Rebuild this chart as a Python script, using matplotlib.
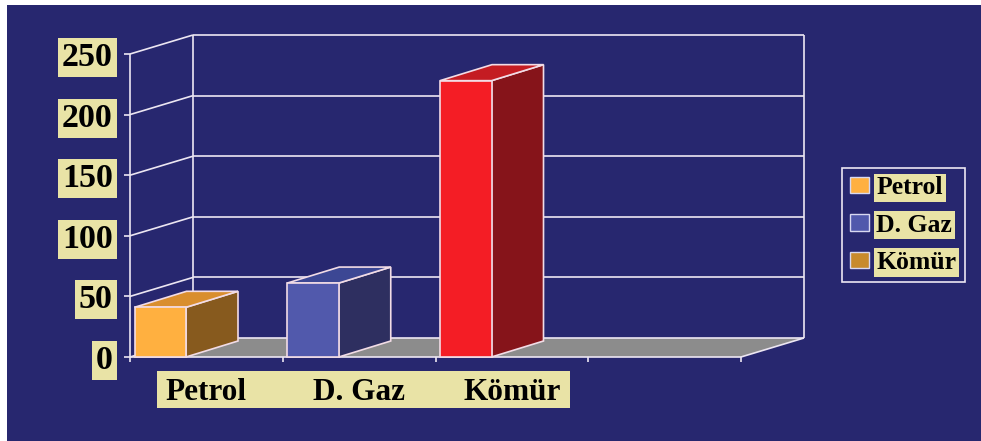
import matplotlib
matplotlib.use("Agg")
import matplotlib.pyplot as plt
from matplotlib.patches import Polygon, Rectangle, Patch

# ---- data ----
categories = ["Petrol", "D. Gaz", "Kömür"]
values = [41, 61, 228]
y_ticks = [0, 50, 100, 150, 200, 250]
legend_labels = ["Petrol", "D. Gaz", "Kömür"]

# ---- styles ----
front_colors = ["#FFB040", "#5159AC", "#F41D25"]
side_colors = ["#875A1E", "#2E2F60", "#86141A"]
top_colors = ["#D98E2E", "#3C4794", "#C41C22"]
legend_colors = ["#FFB040", "#5159AC", "#C88A2C"]

NAVY = "#27276F"
KHAKI = "#E9E3A6"
LINE = "#ECE6F2"
EDGE = "#F2DCE6"
FLOOR = "#8C8C8C"

plt.rcParams["font.family"] = ["Liberation Serif", "DejaVu Serif"]
plt.rcParams["font.weight"] = "bold"

W, H = 981, 441
fig = plt.figure(figsize=(W / 100, H / 100), dpi=100, facecolor="white")
fig.patches.append(Rectangle((7 / W, 0), 1, (H - 5) / H, transform=fig.transFigure,
                             facecolor=NAVY, edgecolor="none", zorder=-3))

# front plot area (pixels)
px0, px1 = 130, 741
py0, py1 = 357, 54
nslots = len(categories) + 1
ax = fig.add_axes([px0 / W, 1 - py0 / H, (px1 - px0) / W, (py0 - py1) / H])
ax.set_xlim(0, nslots)
ax.set_ylim(0, y_ticks[-1])
ax.patch.set_visible(False)
for s in ax.spines.values():
    s.set_visible(False)

slot_px = (px1 - px0) / nslots
unit_px = (py0 - py1) / y_ticks[-1]
DX = 63 / slot_px          # wall depth
DY = 19 / unit_px
BDX = 52 / slot_px         # bar depth
BDY = 16 / unit_px
BW = 51.5 / slot_px        # bar width
OFF = 4.5 / slot_px

lw = 1.2
kw = dict(color=LINE, lw=lw, clip_on=False, solid_capstyle="butt")

# floor
ax.add_patch(Polygon([(0, 0), (nslots, 0), (nslots + DX, DY), (DX, DY)], closed=True,
                     facecolor=FLOOR, edgecolor="none", zorder=1, clip_on=False))
# back wall grid + left wall diagonals
ymax = y_ticks[-1]
for v in y_ticks:
    ax.plot([DX, nslots + DX], [v + DY, v + DY], zorder=2, **kw)
    ax.plot([0, DX], [v, v + DY], zorder=2, **kw)
ax.plot([DX, DX], [DY, ymax + DY], zorder=2, **kw)
ax.plot([nslots + DX, nslots + DX], [DY, ymax + DY], zorder=2, **kw)
# front axis lines
ax.plot([0, 0], [0, ymax], zorder=3, **kw)
ax.plot([0, nslots], [0, 0], zorder=3, **kw)
ax.plot([nslots, nslots + DX], [0, DY], zorder=3, **kw)

# 3D bars
for i, (v, fc, sc, tc) in enumerate(zip(values, front_colors, side_colors, top_colors)):
    xa = i + OFF
    xb = xa + BW
    pk = dict(edgecolor=EDGE, lw=1.2, joinstyle="miter", clip_on=False, zorder=5)
    ax.add_patch(Polygon([(xb, 0), (xb + BDX, BDY), (xb + BDX, v + BDY), (xb, v)],
                         closed=True, facecolor=sc, **pk))
    ax.add_patch(Polygon([(xa, v), (xb, v), (xb + BDX, v + BDY), (xa + BDX, v + BDY)],
                         closed=True, facecolor=tc, **pk))
    ax.add_patch(Rectangle((xa, 0), BW, v, facecolor=fc, **pk))

# y ticks
ax.set_yticks(y_ticks)
ax.set_yticklabels([str(t) for t in y_ticks])
ax.tick_params(axis="y", direction="out", length=4.5, width=lw, color=LINE,
               pad=8, labelsize=24.5, labelcolor="black")
for lbl in ax.get_yticklabels():
    lbl.set_fontweight("bold")
    lbl.set_bbox(dict(boxstyle="square,pad=0.12", facecolor=KHAKI, edgecolor="none"))

# x ticks
ax.set_xticks([i + 0.5 for i in range(len(categories))])
ax.set_xticklabels(categories)
ax.set_xticks(range(nslots + 1), minor=True)
ax.tick_params(axis="x", which="major", length=0, pad=15, labelsize=22.5, labelcolor="black")
ax.tick_params(axis="x", which="minor", direction="out", length=3.5, width=lw, color=LINE)
for lbl in ax.get_xticklabels():
    lbl.set_fontweight("bold")

# khaki band behind category labels
fig.patches.append(Rectangle((157 / W, 1 - 408 / H), (570 - 157) / W, 37 / H,
                             transform=fig.transFigure, facecolor=KHAKI,
                             edgecolor="none", zorder=-1))

# legend
handles = [Patch(facecolor=c, edgecolor="#D8D8F0", lw=1.0) for c in legend_colors]
leg = ax.legend(handles, legend_labels, loc="upper left",
                bbox_to_anchor=(842 / W, 1 - 168 / H), bbox_transform=fig.transFigure,
                borderaxespad=0, frameon=True, fancybox=False, facecolor=NAVY,
                edgecolor=LINE, framealpha=1, borderpad=0.32, labelspacing=0.56,
                handlelength=0.72, handleheight=0.6, handletextpad=0.3,
                prop=dict(family="Liberation Serif", weight="bold", size=18.5))
leg.get_frame().set_linewidth(1.2)
for t in leg.get_texts():
    t.set_color("black")
    t.set_bbox(dict(boxstyle="square,pad=0.1", facecolor=KHAKI, edgecolor="none"))

fig.savefig("out.png", dpi=100, facecolor=fig.get_facecolor())
